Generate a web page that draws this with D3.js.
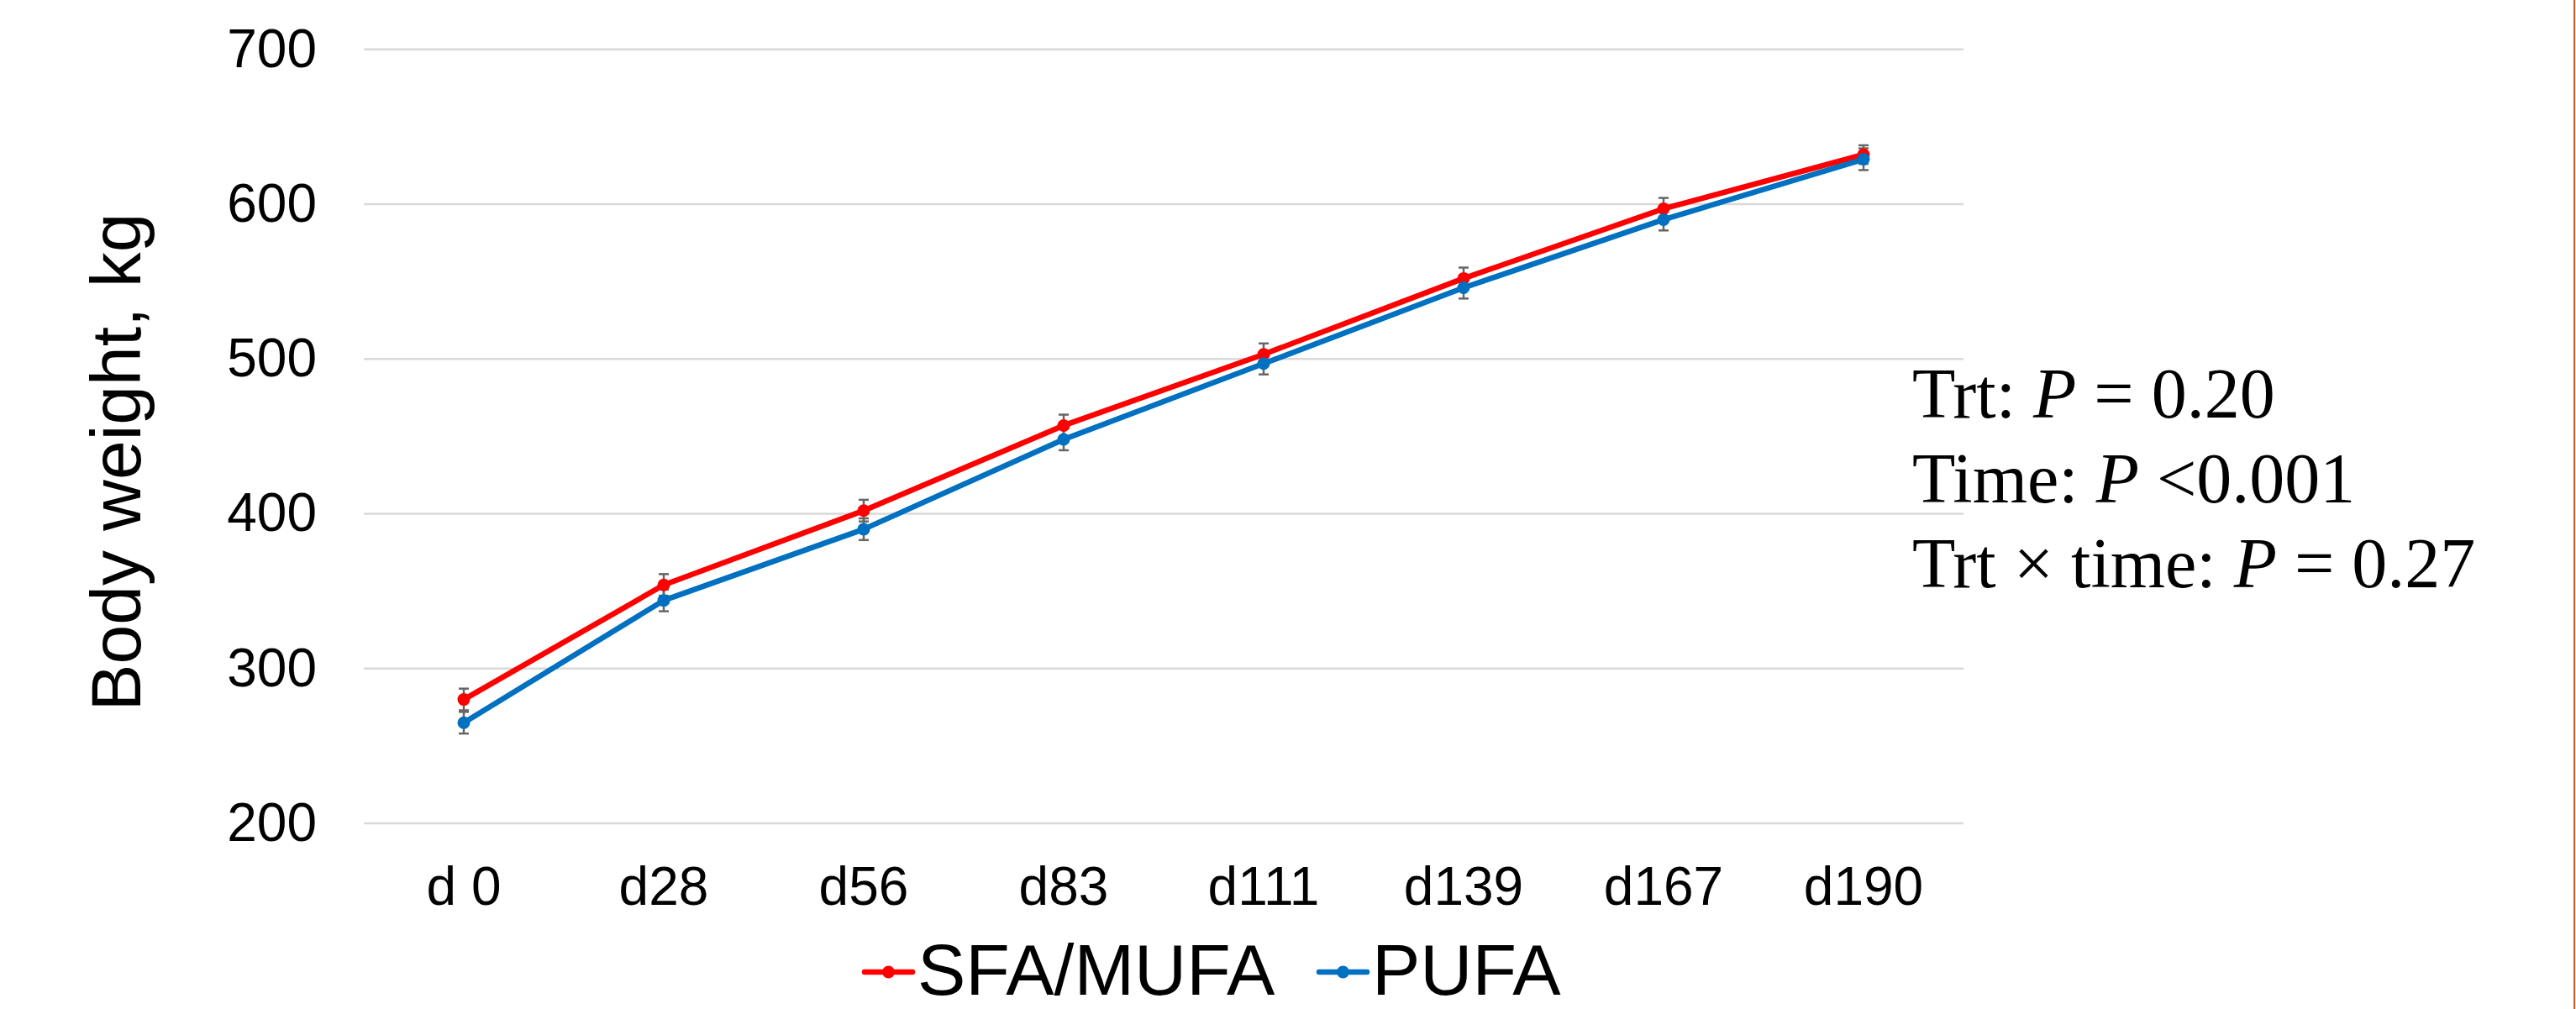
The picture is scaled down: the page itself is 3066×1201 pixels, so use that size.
<!DOCTYPE html>
<html>
<head>
<meta charset="utf-8">
<script src="https://cdn.jsdelivr.net/npm/d3@7"></script>
<style>
  html, body { margin: 0; padding: 0; background: #fff; }
  svg { display: block; }
</style>
</head>
<body>
<svg width="3066" height="1201"></svg>
<script>
// chart data
var days = ["d 0", "d28", "d56", "d83", "d111", "d139", "d167", "d190"];
var sfaMufa = [280, 354, 402, 457, 503, 552, 597, 632];
var pufa = [265, 344, 390, 448, 497, 546, 590, 629];
var sfaSe = [7, 7, 7, 7, 7, 7, 7, 6];
var pufaSe = [7, 7, 7, 7, 7, 7, 7, 7];
var yTicks = [200, 300, 400, 500, 600, 700];
var seriesNames = ["SFA/MUFA", "PUFA"];
var seriesColors = ["#ff0000", "#0070c0"];
var stats = [
  ["Trt: ", "P", " = 0.20"],
  ["Time: ", "P", " <0.001"],
  ["Trt \u00d7 time: ", "P", " = 0.27"]
];

var svg = d3.select("svg"),
    sans = "'Liberation Sans', Arial, sans-serif",
    serif = "'Liberation Serif', 'Times New Roman', serif";

var x = d3.scaleBand().domain(days).range([433, 2337]).padding(0),
    y = d3.scaleLinear().domain([200, 700]).range([980, 58.7]);

// gridlines
svg.append("g")
  .selectAll("line")
  .data(yTicks)
  .join("line")
    .attr("x1", 433).attr("x2", 2337)
    .attr("y1", function(d) { return y(d); })
    .attr("y2", function(d) { return y(d); })
    .attr("stroke", "#d9d9d9")
    .attr("stroke-width", 2.5);

// y axis labels
var yAxis = svg.append("g")
  .attr("transform", "translate(433,0)")
  .call(d3.axisLeft(y).tickValues(yTicks).tickSize(0).tickPadding(56));
yAxis.select(".domain").remove();
yAxis.selectAll("text")
  .attr("font-family", sans)
  .attr("font-size", 64)
  .attr("fill", "#000");

// x axis labels
var xAxis = svg.append("g")
  .attr("transform", "translate(0,980)")
  .call(d3.axisBottom(x).tickSize(0).tickPadding(52));
xAxis.select(".domain").remove();
xAxis.selectAll("text")
  .attr("font-family", sans)
  .attr("font-size", 64)
  .attr("fill", "#000");

// y title
svg.append("text")
  .attr("transform", "translate(167,550) rotate(-90)")
  .attr("text-anchor", "middle")
  .attr("font-family", sans)
  .attr("font-size", 84)
  .text("Body weight, kg");

var series = [
  { name: seriesNames[0], values: sfaMufa, se: sfaSe, color: seriesColors[0] },
  { name: seriesNames[1], values: pufa, se: pufaSe, color: seriesColors[1] }
];

var line = d3.line()
  .x(function(d, i) { return x(days[i]) + x.bandwidth() / 2; })
  .y(function(d) { return y(d); });

series.forEach(function(s) {
  svg.append("path")
    .attr("d", line(s.values))
    .attr("fill", "none")
    .attr("stroke", s.color)
    .attr("stroke-width", 6.5)
    .attr("stroke-linejoin", "round");
});

// error bars
series.forEach(function(s) {
  var g = svg.append("g").attr("stroke", "#666666").attr("stroke-width", 2.5);
  s.values.forEach(function(v, i) {
    var cx = x(days[i]) + x.bandwidth() / 2;
    g.append("line").attr("x1", cx).attr("x2", cx)
      .attr("y1", y(v - s.se[i])).attr("y2", y(v + s.se[i]));
    g.append("line").attr("x1", cx - 6).attr("x2", cx + 6)
      .attr("y1", y(v + s.se[i])).attr("y2", y(v + s.se[i]));
    g.append("line").attr("x1", cx - 6).attr("x2", cx + 6)
      .attr("y1", y(v - s.se[i])).attr("y2", y(v - s.se[i]));
  });
});

// markers
series.forEach(function(s) {
  svg.append("g")
    .selectAll("circle")
    .data(s.values)
    .join("circle")
      .attr("cx", function(d, i) { return x(days[i]) + x.bandwidth() / 2; })
      .attr("cy", function(d) { return y(d); })
      .attr("r", 7.5)
      .attr("fill", s.color);
});

// stats text
var st = svg.append("text")
  .attr("font-family", serif)
  .attr("font-size", 84)
  .attr("fill", "#000");
stats.forEach(function(row, i) {
  var t = st.append("tspan").attr("x", 2276).attr("y", 497 + i * 101).text(row[0]);
  st.append("tspan").attr("font-style", "italic").text(row[1]);
  st.append("tspan").text(row[2]);
});

// legend
var legendItems = [
  { x: 1029, color: seriesColors[0], name: seriesNames[0] },
  { x: 1570, color: seriesColors[1], name: seriesNames[1] }
];
legendItems.forEach(function(d) {
  var g = svg.append("g");
  g.append("line")
    .attr("x1", d.x).attr("x2", d.x + 57)
    .attr("y1", 1157).attr("y2", 1157)
    .attr("stroke", d.color).attr("stroke-width", 6.5)
    .attr("stroke-linecap", "round");
  g.append("circle")
    .attr("cx", d.x + 28.5).attr("cy", 1157).attr("r", 7.5)
    .attr("fill", d.color);
  g.append("text")
    .attr("x", d.x + 63).attr("y", 1184)
    .attr("font-family", sans)
    .attr("font-size", 86)
    .text(d.name);
});

// right border
svg.append("rect")
  .attr("x", 3063).attr("y", 0)
  .attr("width", 2).attr("height", 1201)
  .attr("fill", "#d9552f");
</script>
</body>
</html>
